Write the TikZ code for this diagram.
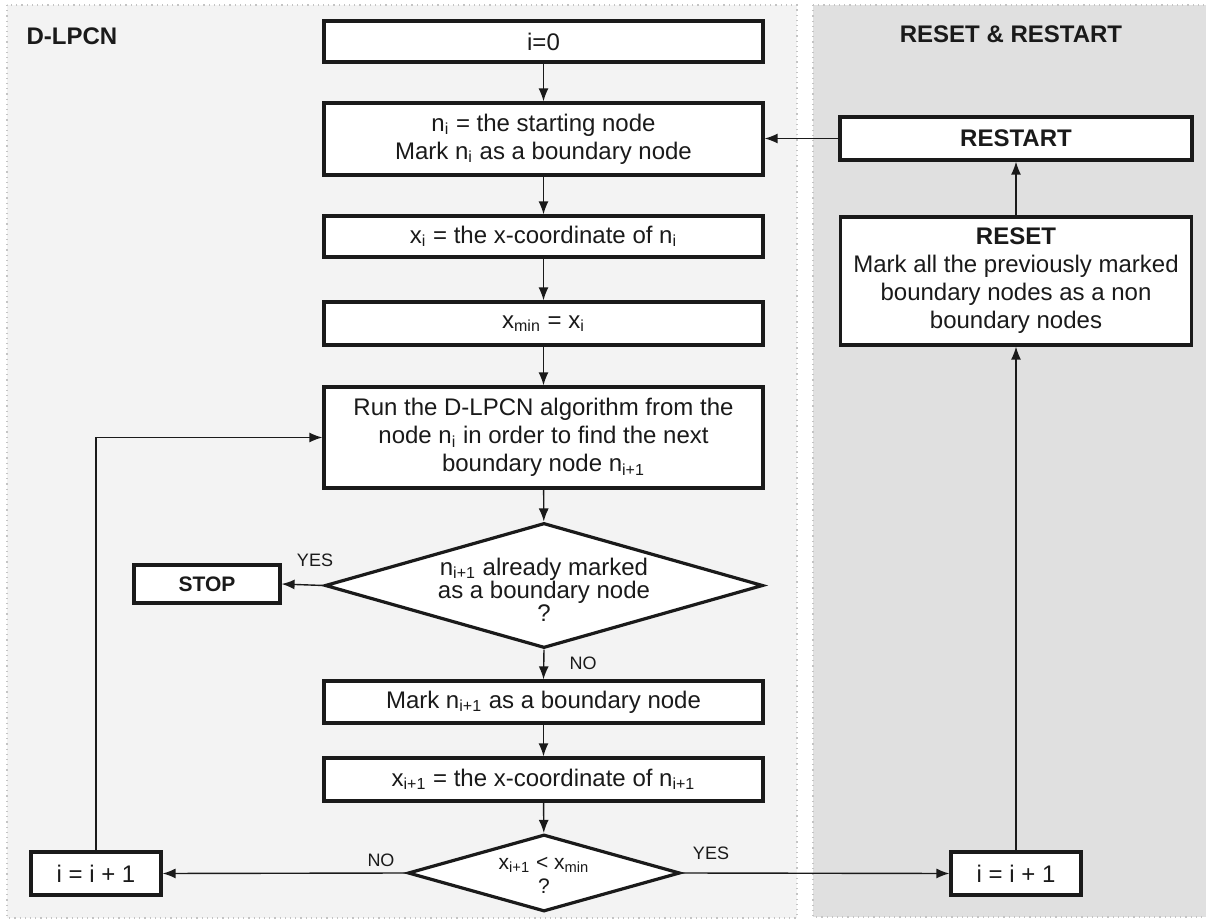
\documentclass[tikz,border=0pt]{standalone}
\usepackage{fontspec}
\setmainfont{Liberation Sans}
\usetikzlibrary{arrows.meta,shapes.geometric}
\definecolor{panelL}{HTML}{F3F3F3}
\definecolor{panelR}{HTML}{E0E0E0}
\definecolor{dotc}{HTML}{C4C4C4}
\definecolor{ink}{HTML}{1A1A1A}
\newcommand{\sbs}[1]{\textsubscript{#1}}
\begin{document}
\begin{tikzpicture}[x=0.5pt,y=-0.5pt,
  font=\fontsize{12}{14}\selectfont,
  box/.style={draw=ink, line width=1.6pt, fill=white, align=center, inner sep=0pt, text=ink},
  dia/.style={draw=ink, line width=1.6pt, fill=white, shape=diamond, inner sep=0pt},
  conn/.style={draw=ink, line width=0.7pt, -{Latex[length=6.5pt,width=5pt]}},
  lbl/.style={font=\fontsize{9}{10}\selectfont, text=ink},
  ttl/.style={font=\bfseries\fontsize{12}{14}\selectfont, text=ink},
  panel/.style={draw=dotc, dotted, line width=0.6pt}
]
\useasboundingbox (0,0) rectangle (1206,919);
% panels
\fill[white] (0,0) rectangle (1206,919);
\draw[panel, fill=panelL] (7,5) rectangle (797,918);
\draw[panel, fill=panelR] (813,5) rectangle (1212,917);

\node[ttl] (tl) at (72,36) {D-LPCN};
\node[ttl] (tr) at (1011,34) {RESET \& RESTART};

% main column
\node[box, minimum width=219.5pt, minimum height=20.5pt] (i0) at (543.5,41.5) {i=0};
\node[box, minimum width=219.5pt, minimum height=36pt] (ni) at (543.5,139)
  {n\sbs{i} = the starting node\\Mark n\sbs{i} as a boundary node};
\node[box, minimum width=219.5pt, minimum height=20.5pt] (xi) at (543.5,236.5)
  {x\sbs{i} = the x-coordinate of n\sbs{i}};
\node[box, minimum width=219.5pt, minimum height=21.5pt] (xmin) at (543.5,323.5)
  {x\sbs{min} = x\sbs{i}};
\node[box, minimum width=219.5pt, minimum height=50.5pt] (run) at (543.5,437.5)
  {Run the D-LPCN algorithm from the\\node n\sbs{i} in order to find the next\\boundary node n\sbs{i+1}};
\node[dia, minimum width=219pt, minimum height=62.5pt,
  label={[align=center, text=ink, font=\fontsize{12}{11.5}\selectfont, yshift=-2pt]center:{n\sbs{i+1} already marked\\as a boundary node\\?}}] (d1) at (544,585.5) {};
\node[box, minimum width=73pt, minimum height=19pt, font=\bfseries\fontsize{10.5}{12}\selectfont] (stop) at (207,584) {STOP};
\node[box, minimum width=219.5pt, minimum height=21pt] (mark) at (543.5,702)
  {Mark n\sbs{i+1} as a boundary node};
\node[box, minimum width=219.5pt, minimum height=21.5pt] (xi1) at (543.5,779.5)
  {x\sbs{i+1} = the x-coordinate of n\sbs{i+1}};
\node[dia, minimum width=136pt, minimum height=38.5pt,
  label={[align=center, text=ink, font=\fontsize{10.5}{12}\selectfont, yshift=-1pt]center:{x\sbs{i+1} < x\sbs{min}\\?}}] (d2) at (544,873) {};
\node[box, minimum width=65pt, minimum height=21.5pt] (incL) at (96,873.5) {i = i + 1};
\node[box, minimum width=65pt, minimum height=21.5pt] (incR) at (1016,873.5) {i = i + 1};

% right column
\node[box, minimum width=176pt, minimum height=21.5pt, font=\bfseries\fontsize{12}{14}\selectfont] (restart) at (1016,138.5) {RESTART};
\node[box, minimum width=175.5pt, minimum height=64pt] (reset) at (1016,281)
  {\textbf{RESET}\\Mark all the previously marked\\boundary nodes as a non\\boundary nodes};

% connectors
\draw[conn] (i0) -- (ni);
\draw[conn] (ni) -- (xi);
\draw[conn] (xi) -- (xmin);
\draw[conn] (xmin) -- (run);
\draw[conn] (run) -- (d1);
\draw[conn] (d1.west) -- (stop.east);
\draw[conn] (d1.south) -- (mark.north);
\draw[conn] (mark) -- (xi1);
\draw[conn] (xi1) -- (d2);
\draw[conn] (d2.west) -- (incL.east);
\draw[conn] (d2.east) -- (incR.west);
\draw[conn] (incL.north) |- (run.west);
\draw[conn] (incR.north) -- (reset.south);
\draw[conn] (reset.north) -- (restart.south);
\draw[conn] (restart.west) -- (restart.west -| ni.east);

% labels
\node[lbl] (yes1) at (315,560) {YES};
\node[lbl] (no1) at (583,663) {NO};
\node[lbl] (no2) at (381,860) {NO};
\node[lbl] (yes2) at (711,853) {YES};
\end{tikzpicture}
\end{document}
